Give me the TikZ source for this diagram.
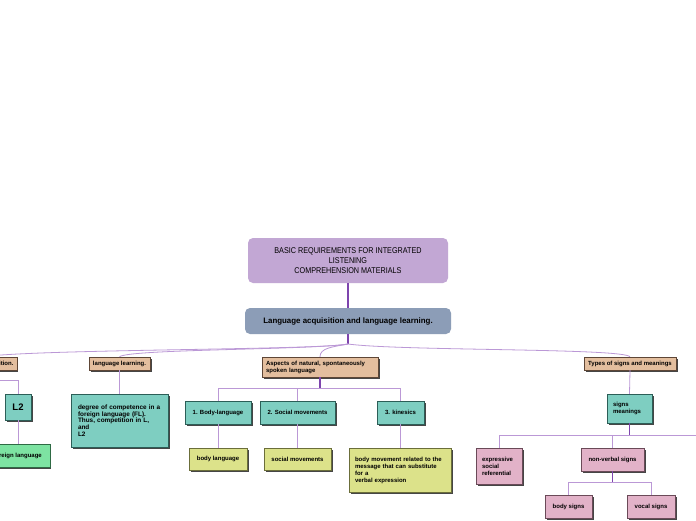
\documentclass[tikz,border=0pt]{standalone}
\usepackage{fontspec}
\setmainfont{Liberation Sans}
\newfontfamily\narrowfont[FakeStretch=0.86]{Liberation Sans}
\usetikzlibrary{shadows}
\definecolor{rootc}{HTML}{C2A7D4}
\definecolor{lonec}{HTML}{8C9DB7}
\definecolor{tanc}{HTML}{E3BE9E}
\definecolor{tanb}{HTML}{5E4636}
\definecolor{tealc}{HTML}{7ECEC1}
\definecolor{tealb}{HTML}{2C5E57}
\definecolor{yelc}{HTML}{DCE28A}
\definecolor{yelb}{HTML}{6B6E3A}
\definecolor{pinkc}{HTML}{E2B2C8}
\definecolor{pinkb}{HTML}{6A4A58}
\definecolor{grnc}{HTML}{7DE3A2}
\definecolor{grnb}{HTML}{2E6A44}
\definecolor{lnkc}{HTML}{BB98D6}
\definecolor{lnkd}{HTML}{7E45AE}
\tikzset{
  lnk/.style={draw=lnkc, line width=0.8pt},
  lnkdark/.style={draw=lnkd, line width=1.1pt},
  bx/.style={line width=0.4pt, inner sep=0pt, text=black,
    font=\bfseries\fontsize{6}{7}\selectfont,
    drop shadow={shadow xshift=1.6pt, shadow yshift=-1.6pt, fill=black!85, opacity=0.85}},
  tanbox/.style={bx, fill=tanc, draw=tanb},
  tealbox/.style={bx, fill=tealc, draw=tealb},
  yelbox/.style={bx, fill=yelc, draw=yelb},
  pinkbox/.style={bx, fill=pinkc, draw=pinkb},
  grnbox/.style={bx, fill=grnc, draw=grnb},
  sz/.style 2 args={minimum width=#1pt, minimum height=#2pt},
  lbox/.style 2 args={text width=#1pt, minimum height=#2pt, align=left},
}
\begin{document}
\begin{tikzpicture}[x=1pt,y=-1pt]
\useasboundingbox (0,0) rectangle (696,520);
\fill[white] (0,0) rectangle (696,520);

% root and level 1
\node[fill=rootc, rounded corners=5pt, sz={200}{45}, align=center, inner sep=0pt,
      font=\narrowfont\fontsize{8.4}{10}\selectfont, text=black] (root) at (348,260.5)
  {BASIC REQUIREMENTS FOR INTEGRATED\\LISTENING\\COMPREHENSION MATERIALS};
\node[fill=lonec, rounded corners=5pt, sz={206}{26}, inner sep=0pt,
      font=\bfseries\fontsize{7.9}{9}\selectfont, text=black] (lone) at (348,321)
  {Language acquisition and language learning.};
\coordinate (hub) at (348,344);

% level 2
\node[tanbox, sz={70}{13}, anchor=east] (acq) at (17,363.5) {Language acquisition.};
\node[tanbox, sz={61}{13}] (ll) at (119.5,363.5) {language learning.};
\node[tanbox, lbox={108}{20}, inner xsep=4pt] (asp) at (320,367)
  {Aspects of natural, spontaneously\\spoken language};
\node[tanbox, sz={92}{13}] (types) at (630,363.5) {Types of signs and meanings};

% level 3 left
\node[tealbox, sz={26}{26}, font=\bfseries\fontsize{9.5}{10}\selectfont] (L2) at (18,407) {L2};
\node[grnbox, sz={66}{23}, anchor=east] (fl) at (50,455.5) {Foreign language};
\node[tealbox, lbox={83}{53}, inner xsep=7pt, font=\bfseries\fontsize{6.4}{6.8}\selectfont] (deg) at (119.5,420.5)
  {degree of competence in a\\foreign language (FL).\\Thus, competition in L,\\and\\L2};

% aspects subtree
\node[tealbox, sz={66}{23}] (bl1) at (218,412.5) {1. Body-language};
\node[tealbox, sz={75}{23}] (sm1) at (297.5,412.5) {2. Social movements};
\node[tealbox, sz={47}{23}] (kin) at (400.5,412.5) {3. kinesics};
\node[yelbox, sz={58}{22}] (bl2) at (218,459) {body language};
\node[yelbox, sz={67}{22}] (sm2) at (297.5,459) {social movements};
\node[yelbox, lbox={90}{44}, inner xsep=6pt] (bm) at (400,470)
  {body movement related to the\\message that can substitute\\for a\\verbal expression};

% types subtree
\node[tealbox, lbox={33}{29}, inner xsep=6pt] (sgn) at (629.5,408.5) {signs\\meanings};
\node[pinkbox, lbox={34}{36}, inner xsep=6pt] (exp) at (499,466) {expressive\\social\\referential};
\node[pinkbox, sz={63}{23}] (nvs) at (612.5,459.5) {non-verbal signs};
\node[pinkbox, sz={47}{23}] (bs) at (568.5,506.5) {body signs};
\node[pinkbox, sz={48}{23}] (vs) at (651,506.5) {vocal signs};
\coordinate (offc) at (730,448);

% connectors
\draw[lnkdark] (root.south) -- (lone.north);
\draw[lnkdark] (lone.south) -- (hub);
\draw[lnk] (hub) .. controls (320,350) and (40,349) .. (acq.north);
\draw[lnk] (hub) .. controls (310,350) and (128,349) .. (ll.north);
\draw[lnk] (hub) .. controls (332,347) and (320,348) .. (asp.north);
\draw[lnk] (hub) .. controls (400,351) and (624,348) .. (types.north);

\draw[lnk] (acq.south) -- ++(0,10) -| (L2.north);
\draw[lnk] (L2.south) -- (L2.south |- fl.north);
\draw[lnk] (ll.south) -- (deg.north);

\draw[lnk] (asp.south) -- ++(0,11) -| (bl1.north);
\draw[lnk] (asp.south) -- ++(0,11) -| (sm1.north);
\draw[lnk] (asp.south) -- ++(0,11) -| (kin.north);
\draw[lnkdark] (asp.south) -- ++(0,11);
\draw[lnk] (bl1.south) -- (bl2.north);
\draw[lnk] (sm1.south) -- (sm2.north);
\draw[lnk] (kin.south) -- (kin.south |- bm.north);

\draw[lnk] (types.south) -- (sgn.north);
\draw[lnk] (sgn.south) -- ++(0,12) -| (exp.north);
\draw[lnk] (sgn.south) -- ++(0,12) -| (nvs.north);
\draw[lnk] (sgn.south) -- ++(0,12) -| (offc);
\draw[lnkdark] (sgn.south) -- ++(0,12);
\draw[lnk] (nvs.south) -- ++(0,11) -| (bs.north);
\draw[lnk] (nvs.south) -- ++(0,11) -| (vs.north);
\draw[lnkdark] (nvs.south) -- ++(0,11);
\end{tikzpicture}
\end{document}
